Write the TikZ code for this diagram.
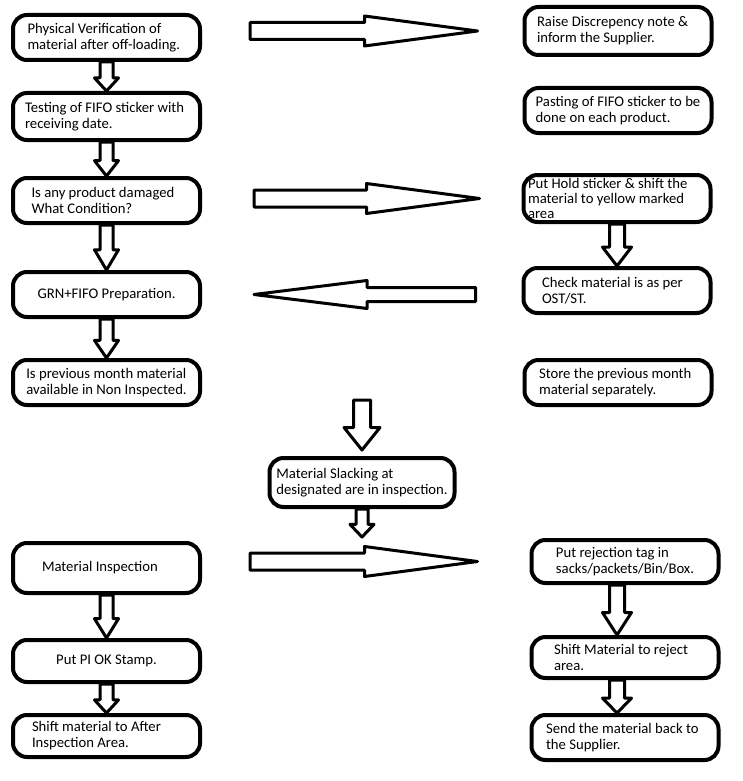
\documentclass[tikz,border=0pt]{standalone}
\usepackage{fontspec}
\setmainfont{Carlito}
\usetikzlibrary{calc}

% hollow block arrows: shaft half width, head half width, from, to
\newcommand{\blockv}[4]{%
  \draw[blockarrow] let \p1=(#3), \p2=(#4), \n1={0.45*(\y1-\y2)} in
    (\x1-#1pt,\y1) -- (\x1-#1pt,\y2+\n1) -- (\x1-#2pt,\y2+\n1) -- (\x1,\y2)
    -- (\x1+#2pt,\y2+\n1) -- (\x1+#1pt,\y2+\n1) -- (\x1+#1pt,\y1) -- cycle;}
\newcommand{\blockh}[4]{%
  \draw[blockarrow] let \p1=(#3), \p2=(#4), \n1={(\x2-\x1)/abs(\x2-\x1)} in
    (\x1,\y2+#1pt) -- (\x2-\n1*113pt,\y2+#1pt) -- (\x2-\n1*113pt,\y2+#2pt) -- (\x2,\y2)
    -- (\x2-\n1*113pt,\y2-#2pt) -- (\x2-\n1*113pt,\y2-#1pt) -- (\x1,\y2-#1pt) -- cycle;}

\begin{document}
\begin{tikzpicture}[x=1pt, y=-1pt,
  stepbox/.style={draw, line width=4pt, rounded corners=14pt, minimum width=187pt,
    minimum height=45pt, align=flush left, inner sep=0pt,
    font=\fontsize{14.7}{16}\selectfont},
  blockarrow/.style={draw, line width=3pt, line join=round}]
\useasboundingbox (0,0) rectangle (743,781);

% left column
\node[stepbox, text width=158pt] (phys) at (106.5,37.5) {Physical Verification of\\material after off-loading.};
\node[stepbox, minimum height=47pt, text width=163pt] (test) at (106.5,116.5) {Testing of FIFO sticker with\\receiving date.};
\node[stepbox, text width=150pt] (damage) at (106.5,200.5) {Is any product damaged\\What Condition?};
\node[stepbox, align=center] (grn) at (106.5,294.5) {GRN+FIFO Preparation.};
\node[stepbox] (prev) at (106.5,382.5) {Is previous month material\\available in Non Inspected.};

% right column
\node[stepbox, minimum height=48pt, text width=162pt] (raise) at (618,31) {Raise Discrepency note \&\\inform the Supplier.};
\node[stepbox] (paste) at (618,110.5) {Pasting of FIFO sticker to be\\done on each product.};
\node[stepbox, minimum height=47pt, text width=178pt, font=\fontsize{14.7}{14.8}\selectfont] (hold) at (617,198.5) {Put Hold sticker \& shift the\\material to yellow marked\\area};
\node[stepbox, text width=150pt] (check) at (617,290.5) {Check material is as per\\OST/ST.};
\node[stepbox, text width=158pt] (store) at (618,382.5) {Store the previous month\\material separately.};

% middle
\node[stepbox, minimum width=185pt, minimum height=49pt] (slack) at (362,482.5) {Material Slacking at\\designated are in inspection.};

% inspection
\node[stepbox, minimum height=50pt, text width=129pt] (insp) at (106.5,568) {Material Inspection};
\node[stepbox, minimum height=42pt, align=center] (stamp) at (106.5,661) {Put PI OK Stamp.};
\node[stepbox, minimum height=42pt, text width=149pt] (after) at (106.5,736) {Shift material to After\\Inspection Area.};
\node[stepbox, minimum height=43pt] (reject) at (625,561.5) {Put rejection tag in\\sacks/packets/Bin/Box.};
\node[stepbox, minimum height=41pt, text width=142pt] (rejarea) at (625,657.5) {Shift Material to reject\\area.};
\node[stepbox, text width=158pt] (back) at (625,737.5) {Send the material back to\\the Supplier.};

\coordinate (slackin) at (362,400);
\coordinate (slackout) at (362,537);

% arrows
\blockv{6.5}{12}{phys.south}{test.north}
\blockv{6.5}{12}{test.south}{damage.north}
\blockv{6.5}{12}{damage.south}{grn.north}
\blockv{6.5}{12}{grn.south}{prev.north}
\blockv{7.5}{14.5}{hold.south}{check.north}
\blockv{8.5}{18}{slackin}{$(slack.north)+(0,-6)$}
\blockv{6}{12}{slack.south}{slackout}
\blockv{6.5}{12}{insp.south}{stamp.north}
\blockv{6.5}{12}{stamp.south}{after.north}
\blockv{7.5}{14.5}{$(reject.south)+(-8,0)$}{rejarea.north}
\blockv{7.5}{14.5}{$(rejarea.south)+(-8,0)$}{back.north}

\blockh{8.5}{15}{$(phys.east)+(48,0)$}{$(raise.west)+(-45,0)$}
\blockh{8.5}{15}{$(damage.east)+(52,0)$}{$(hold.west)+(-42,0)$}
\blockh{7}{14}{$(check.west)+(-46,0)$}{$(grn.east)+(52,0)$}
\blockh{8.5}{15}{$(insp.east)+(48,0)$}{$(reject.west)+(-52,0)$}
\end{tikzpicture}
\end{document}
